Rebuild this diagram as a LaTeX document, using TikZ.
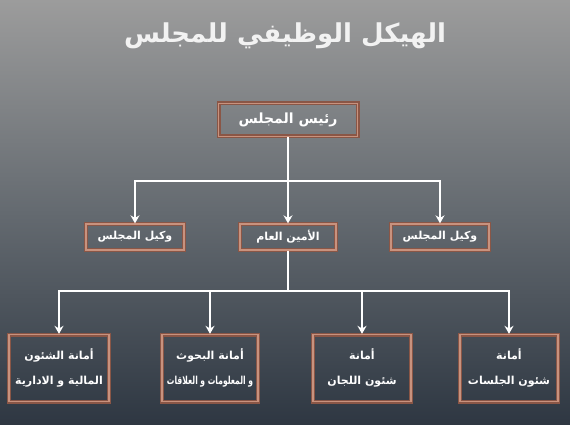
\documentclass[tikz,border=0pt]{standalone}
\usepackage{fontspec}
\TeXXeTstate=1
\newfontfamily\arabicfont[Script=Arabic]{DejaVu Sans}
\usetikzlibrary{arrows.meta}
\definecolor{bgtop}{HTML}{9C9C9C}
\definecolor{bgmid}{HTML}{646A70}
\definecolor{bgbot}{HTML}{2E3742}
\definecolor{frameout}{HTML}{C8927E}
\definecolor{framein}{HTML}{8A5646}
\tikzset{
  orgbox/.style={draw=framein, line width=1.3pt, double=frameout, double distance=1.4pt,
    inner sep=0pt, text=white, font=\arabicfont\bfseries\fontsize{11}{25}\selectfont, align=center},
  link/.style={draw=white, line width=1.4pt},
  arr/.style={link, -{Stealth[length=8pt,width=9pt]}}
}
\begin{document}
\begin{tikzpicture}[x=1pt,y=-1pt]
\useasboundingbox (0,0) rectangle (570,425);
\shade[top color=bgtop, bottom color=bgbot, middle color=bgmid] (0,0) rectangle (570,425);
\node[text=white!90!gray, font=\arabicfont\bfseries\fontsize{26}{30}\selectfont] (title) at (285,36) {\beginR الهيكل الوظيفي للمجلس\endR};
\node[orgbox, minimum width=139pt, minimum height=33pt, font=\arabicfont\bfseries\fontsize{14}{17}\selectfont] (top) at (288,120) {\beginR رئيس المجلس\endR};
\node[orgbox, minimum width=98pt, minimum height=26pt] (midL) at (135,237) {\beginR وكيل المجلس\endR};
\node[orgbox, minimum width=96pt, minimum height=26pt] (midC) at (288,237) {\beginR الأمين العام\endR};
\node[orgbox, minimum width=98pt, minimum height=26pt] (midR) at (440,237) {\beginR وكيل المجلس\endR};
\node[orgbox, minimum width=100pt, minimum height=67pt] (b1) at (59,368) {\beginR أمانة الشئون\endR\\\beginR المالية و الادارية\endR};
\node[orgbox, minimum width=96pt, minimum height=67pt] (b2) at (210,368) {\beginR أمانة البحوث\endR\\\scalebox{0.69}[1]{\beginR و المعلومات و العلاقات\endR}};
\node[orgbox, minimum width=98pt, minimum height=67pt] (b3) at (362,368) {\beginR أمانة\endR\\\beginR شئون اللجان\endR};
\node[orgbox, minimum width=98pt, minimum height=67pt] (b4) at (509,368) {\beginR أمانة\endR\\\beginR شئون الجلسات\endR};
\coordinate (j1) at (288,181);
\coordinate (j2) at (288,291);
\draw[link] (top.south) -- (j1);
\draw[arr] (j1) -| (midL.north);
\draw[arr] (j1) -| (midR.north);
\draw[arr] (j1) -- (midC.north);
\draw[link] (midC.south) -- (j2);
\draw[arr] (j2) -| (b1.north);
\draw[arr] (j2) -| (b2.north);
\draw[arr] (j2) -| (b3.north);
\draw[arr] (j2) -| (b4.north);
\end{tikzpicture}
\end{document}
